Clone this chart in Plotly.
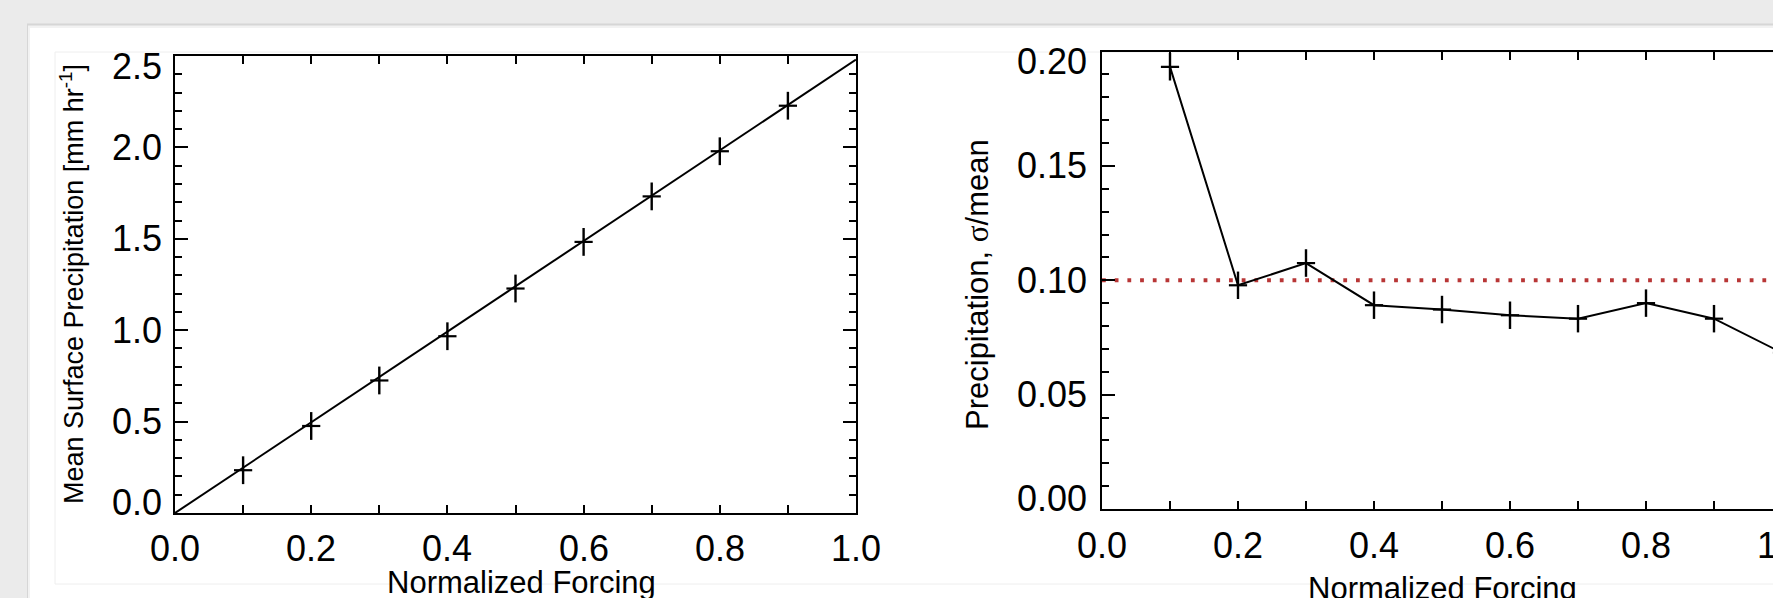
import plotly.graph_objects as go

# ---------------- data ----------------
forcing = [0.1, 0.2, 0.3, 0.4, 0.5, 0.6, 0.7, 0.8, 0.9]
mean_precip = [0.234, 0.476, 0.725, 0.967, 1.228, 1.483, 1.732, 1.979, 2.228]
mean_precip_err = [0.076, 0.076, 0.076, 0.076, 0.076, 0.076, 0.076, 0.076, 0.076]
fit_x = [0.0, 1.0]
fit_y = [0.0, 2.48]

forcing_r = [0.1, 0.2, 0.3, 0.4, 0.5, 0.6, 0.7, 0.8, 0.9, 1.0]
cv_precip = [0.1933, 0.0978, 0.1075, 0.0891, 0.0872, 0.0847, 0.0832, 0.0900, 0.0832, 0.0683]
cv_precip_err = [0.006, 0.006, 0.006, 0.006, 0.006, 0.006, 0.006, 0.006, 0.006, 0.006]
ref_level = 0.10

x_ticks = [0.0, 0.1, 0.2, 0.3, 0.4, 0.5, 0.6, 0.7, 0.8, 0.9, 1.0]
x_label_vals = [0.0, 0.2, 0.4, 0.6, 0.8, 1.0]
x_label_text = ["0.0", "0.2", "0.4", "0.6", "0.8", "1.0"]
y1_label_vals = [0.0, 0.5, 1.0, 1.5, 2.0, 2.5]
y1_label_text = ["0.0", "0.5", "1.0", "1.5", "2.0", "2.5"]
y2_label_vals = [0.00, 0.05, 0.10, 0.15, 0.20]
y2_label_text = ["0.00", "0.05", "0.10", "0.15", "0.20"]

x_title = "Normalized Forcing"
y1_title = "Mean Surface Precipitation [mm hr<sup>-1</sup>]"
y2_title = 'Precipitation, <span style="font-family:Liberation Serif, DejaVu Serif, serif">σ</span>/mean'

# ---------------- layout geometry (pixels) ----------------
W, H = 1773, 598
FONT = "Liberation Sans, Arial, Helvetica, sans-serif"


def px(x):
    return x / W


def py(y):
    return 1 - y / H


fig = go.Figure()

# left panel
fig.add_trace(go.Scatter(x=fit_x, y=fit_y, mode="lines",
                         line=dict(color="black", width=2),
                         xaxis="x", yaxis="y", showlegend=False, hoverinfo="skip"))
fig.add_trace(go.Scatter(x=forcing, y=mean_precip, mode="markers",
                         marker=dict(symbol="line-ew", size=13,
                                     line=dict(color="black", width=2.2)),
                         error_y=dict(type="data", array=mean_precip_err, visible=True,
                                      color="black", thickness=2.4, width=0),
                         xaxis="x", yaxis="y", showlegend=False))

# right panel
fig.add_trace(go.Scatter(x=[0.0, 1.0], y=[ref_level, ref_level], mode="lines",
                         line=dict(color="#B83636", width=3.8, dash="3.8px,8.9px"),
                         xaxis="x2", yaxis="y2", showlegend=False, hoverinfo="skip"))
fig.add_trace(go.Scatter(x=forcing_r, y=cv_precip, mode="lines+markers",
                         line=dict(color="black", width=2),
                         marker=dict(symbol="line-ew", size=13,
                                     line=dict(color="black", width=2.2)),
                         error_y=dict(type="data", array=cv_precip_err, visible=True,
                                      color="black", thickness=2.4, width=0),
                         xaxis="x2", yaxis="y2", showlegend=False, cliponaxis=True))

axis_common = dict(showgrid=False, zeroline=False, showline=True, linecolor="black",
                   linewidth=2, ticks="inside", tickcolor="black", tickwidth=2,
                   showticklabels=False, fixedrange=True)

fig.update_layout(
    width=W, height=H,
    margin=dict(l=0, r=0, t=0, b=0),
    paper_bgcolor="#EBEBEB",
    plot_bgcolor="rgba(0,0,0,0)",
    font=dict(family=FONT, color="black"),
    xaxis=dict(domain=[px(175), px(856)], range=[0, 1], anchor="y",
               tickvals=x_ticks, ticklen=8, mirror="ticks", **axis_common),
    yaxis=dict(domain=[py(513), py(56)], range=[0, 2.5], anchor="x",
               tickvals=y1_label_vals, ticklen=13, mirror="ticks",
               minor=dict(dtick=0.1, ticklen=7, ticks="inside", tickcolor="black",
                          tickwidth=2, showgrid=False),
               **axis_common),
    xaxis2=dict(domain=[px(1102), 1.0], range=[0, (W - 1102) / 680.0], anchor="y2",
                tickvals=x_ticks, ticklen=8, mirror="ticks", **axis_common),
    yaxis2=dict(domain=[py(509), py(51.5)], range=[0, 0.2], anchor="x2",
                tickvals=y2_label_vals, ticklen=13, mirror=False,
                minor=dict(dtick=0.01, ticklen=7, ticks="inside", tickcolor="black",
                           tickwidth=2, showgrid=False),
                **axis_common),
)

# page card and image frame
shapes = [
    dict(type="rect", xref="paper", yref="paper", x0=px(27), x1=1.05, y0=-0.05, y1=py(23.5),
         fillcolor="#D6D6D6", line=dict(width=0), layer="below"),
    dict(type="rect", xref="paper", yref="paper", x0=px(28), x1=1.05, y0=-0.05, y1=py(25.5),
         fillcolor="#F2F2F2", line=dict(width=0), layer="below"),
    dict(type="rect", xref="paper", yref="paper", x0=px(30), x1=1.05, y0=-0.05, y1=py(28),
         fillcolor="white", line=dict(width=0), layer="below"),
    dict(type="rect", xref="paper", yref="paper", x0=px(55), x1=1.05, y0=py(584), y1=py(52),
         fillcolor="rgba(0,0,0,0)", line=dict(color="#EEEEEE", width=1), layer="below"),
]
fig.update_layout(shapes=shapes)

ann = []
TICK_FS = 36
# left y tick labels
for v, t in zip(y1_label_vals, y1_label_text):
    ys = -11 if v == y1_label_vals[-1] else (11 if v == y1_label_vals[0] else 0)
    ann.append(dict(x=0, y=v, xref="x", yref="y", text=t, showarrow=False,
                    xanchor="right", yanchor="middle", xshift=-11, yshift=ys,
                    font=dict(size=TICK_FS)))
# right y tick labels
for v, t in zip(y2_label_vals, y2_label_text):
    ys = -10 if v == y2_label_vals[-1] else (11 if v == y2_label_vals[0] else 0)
    ann.append(dict(x=0, y=v, xref="x2", yref="y2", text=t, showarrow=False,
                    xanchor="right", yanchor="middle", xshift=-13, yshift=ys,
                    font=dict(size=TICK_FS)))
# x tick labels
for v, t in zip(x_label_vals, x_label_text):
    ann.append(dict(x=v, y=0, xref="x", yref="y", text=t, showarrow=False,
                    xanchor="center", yanchor="middle", yshift=-35,
                    font=dict(size=TICK_FS)))
    if v < 1.0:
        ann.append(dict(x=v, y=0, xref="x2", yref="y2", text=t, showarrow=False,
                        xanchor="center", yanchor="middle", yshift=-36,
                        font=dict(size=TICK_FS)))
    else:
        ann.append(dict(x=px(1782), y=py(545), xref="paper", yref="paper", text=t,
                        showarrow=False, xanchor="center", yanchor="middle",
                        font=dict(size=TICK_FS)))
# axis titles
ann.append(dict(x=px(521), y=py(582), xref="paper", yref="paper", text=x_title,
                showarrow=False, xanchor="center", yanchor="middle", font=dict(size=31)))
ann.append(dict(x=px(1442), y=py(588), xref="paper", yref="paper", text=x_title,
                showarrow=False, xanchor="center", yanchor="middle", font=dict(size=31)))
ann.append(dict(x=px(72), y=py(284), xref="paper", yref="paper", text=y1_title,
                showarrow=False, textangle=-90, xanchor="center", yanchor="middle",
                font=dict(size=27)))
ann.append(dict(x=px(977), y=py(284), xref="paper", yref="paper", text=y2_title,
                showarrow=False, textangle=-90, xanchor="center", yanchor="middle",
                font=dict(size=31)))
fig.update_layout(annotations=ann)

fig.write_html("out.html", config={"displayModeBar": False, "staticPlot": True},
               post_script="document.body.style.margin='0px';document.body.style.overflow='hidden';")
